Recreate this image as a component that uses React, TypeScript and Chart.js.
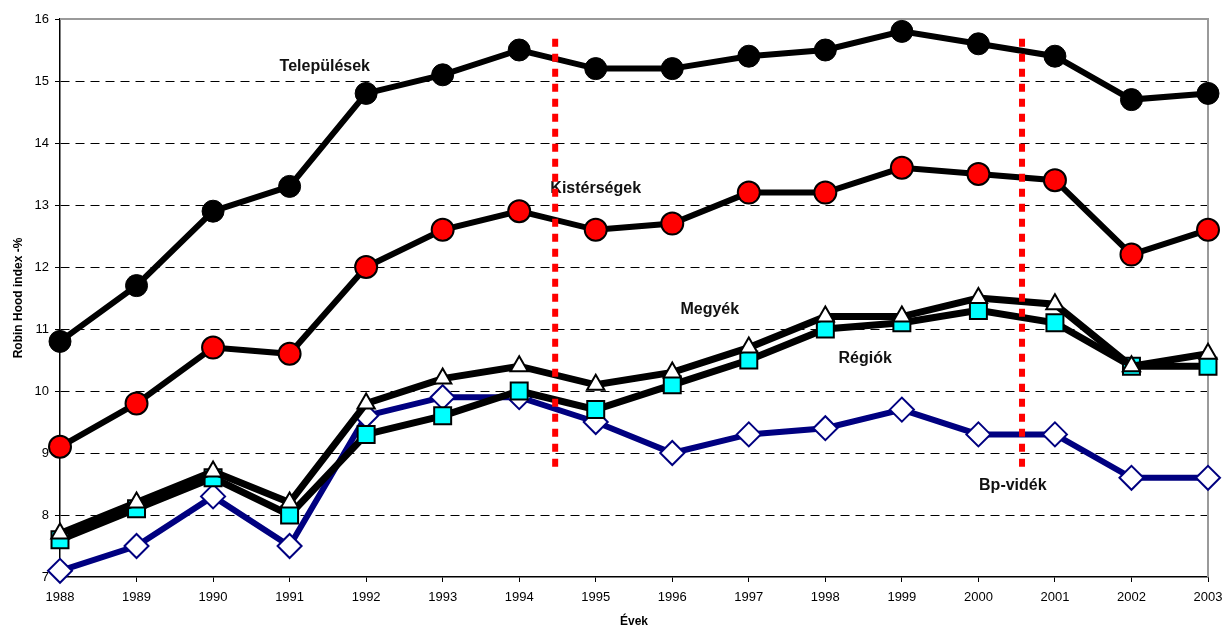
import React, { useEffect, useRef } from 'react';
import { Chart, registerables } from 'chart.js';

Chart.register(...registerables);

const years = ['1988', '1989', '1990', '1991', '1992', '1993', '1994', '1995', '1996', '1997', '1998', '1999', '2000', '2001', '2002', '2003'];
const telepulesek = [10.8, 11.7, 12.9, 13.3, 14.8, 15.1, 15.5, 15.2, 15.2, 15.4, 15.5, 15.8, 15.6, 15.4, 14.7, 14.8];
const kistersegek = [9.1, 9.8, 10.7, 10.6, 12.0, 12.6, 12.9, 12.6, 12.7, 13.2, 13.2, 13.6, 13.5, 13.4, 12.2, 12.6];
const megyek = [7.7, 8.2, 8.7, 8.2, 9.8, 10.2, 10.4, 10.1, 10.3, 10.7, 11.2, 11.2, 11.5, 11.4, 10.4, 10.6];
const regiok = [7.6, 8.1, 8.6, 8.0, 9.3, 9.6, 10.0, 9.7, 10.1, 10.5, 11.0, 11.1, 11.3, 11.1, 10.4, 10.4];
const bpVidek = [7.1, 7.5, 8.3, 7.5, 9.6, 9.9, 9.9, 9.5, 9.0, 9.3, 9.4, 9.7, 9.3, 9.3, 8.6, 8.6];

const yMin = 7;
const yMax = 16;

const labelTexts = ['Települések', 'Kistérségek', 'Megyék', 'Régiók', 'Bp-vidék'];
const labelXs = [3.46, 7.0, 8.49, 10.52, 12.45];
const labelYs = [15.23, 13.26, 11.32, 10.53, 8.47];

const dividerXs = [6.47, 12.57];
const dividerTop = 15.68;
const dividerBottom = 8.73;

const yTitle = 'Robin Hood index -%';
const xTitle = 'Évek';

const FONT = "'Liberation Sans', Arial, Helvetica, sans-serif";

const overlayPlugin = {
  id: 'overlay',
  beforeDatasetsDraw(chart: any) {
    const { ctx, chartArea: a } = chart;
    ctx.save();
    ctx.strokeStyle = '#9a9a9a';
    ctx.lineWidth = 2;
    ctx.beginPath();
    ctx.moveTo(a.left, a.top);
    ctx.lineTo(a.right, a.top);
    ctx.lineTo(a.right, a.bottom);
    ctx.stroke();
    ctx.restore();
  },
  afterDatasetsDraw(chart: any) {
    const { ctx } = chart;
    const xs = chart.scales.x;
    const ys = chart.scales.y;
    ctx.save();
    ctx.font = `bold 16px ${FONT}`;
    ctx.fillStyle = '#111';
    ctx.textAlign = 'center';
    ctx.textBaseline = 'middle';
    labelTexts.forEach((t, i) => {
      ctx.fillText(t, xs.getPixelForValue(labelXs[i]), ys.getPixelForValue(labelYs[i]));
    });
    ctx.strokeStyle = '#ff0000';
    ctx.lineWidth = 6;
    ctx.setLineDash([8, 7]);
    dividerXs.forEach((v) => {
      const px = xs.getPixelForValue(v);
      ctx.beginPath();
      ctx.moveTo(px, ys.getPixelForValue(dividerTop));
      ctx.lineTo(px, ys.getPixelForValue(dividerBottom));
      ctx.stroke();
    });
    ctx.restore();
  },
};

export default function App() {
  const ref = useRef<HTMLCanvasElement | null>(null);

  useEffect(() => {
    if (!ref.current) return;
    const common = { tension: 0, clip: false as any, fill: false };
    const chart = new Chart(ref.current, {
      type: 'line',
      data: {
        labels: years,
        datasets: [
          {
            ...common,
            label: 'Települések',
            data: telepulesek,
            borderColor: '#000',
            borderWidth: 6,
            pointStyle: 'circle',
            pointRadius: 11,
            pointBackgroundColor: '#000',
            pointBorderColor: '#000',
            pointBorderWidth: 1,
            order: 1,
          },
          {
            ...common,
            label: 'Kistérségek',
            data: kistersegek,
            borderColor: '#000',
            borderWidth: 6,
            pointStyle: 'circle',
            pointRadius: 11,
            pointBackgroundColor: '#ff0000',
            pointBorderColor: '#000',
            pointBorderWidth: 2,
            order: 2,
          },
          {
            ...common,
            label: 'Megyék',
            data: megyek,
            borderColor: '#000',
            borderWidth: 7,
            pointStyle: 'triangle',
            pointRadius: 10,
            pointBackgroundColor: '#fff',
            pointBorderColor: '#000',
            pointBorderWidth: 2,
            order: 3,
          },
          {
            ...common,
            label: 'Régiók',
            data: regiok,
            borderColor: '#000',
            borderWidth: 7,
            pointStyle: 'rect',
            pointRadius: 12,
            pointBackgroundColor: '#00ffff',
            pointBorderColor: '#000',
            pointBorderWidth: 2,
            order: 4,
          },
          {
            ...common,
            label: 'Bp-vidék',
            data: bpVidek,
            borderColor: '#000080',
            borderWidth: 6,
            pointStyle: 'rectRot',
            pointRadius: 12,
            pointBackgroundColor: '#fff',
            pointBorderColor: '#000080',
            pointBorderWidth: 2,
            order: 5,
          },
        ],
      },
      options: {
        responsive: false,
        animation: false,
        devicePixelRatio: 1,
        layout: { padding: { top: 19, right: 17, left: 0, bottom: 0 } },
        plugins: {
          legend: { display: false },
          tooltip: { enabled: false },
          title: { display: false },
        },
        scales: {
          x: {
            type: 'category',
            offset: false,
            grid: {
              drawOnChartArea: false,
              drawTicks: true,
              tickLength: 5,
              tickColor: '#000',
            },
            border: { display: true, color: '#000', width: 1.5 },
            ticks: {
              color: '#000',
              font: { size: 13, family: FONT },
              padding: 8,
              maxRotation: 0,
              autoSkip: false,
            },
            title: {
              display: true,
              text: xTitle,
              color: '#000',
              font: { size: 12, weight: 'bold', family: FONT },
              padding: { top: 0, bottom: 3 },
            },
            afterFit(scale: any) {
              scale.height = 55;
              scale.paddingLeft = 0;
              scale.paddingRight = 0;
            },
          },
          y: {
            type: 'linear',
            min: yMin,
            max: yMax,
            grid: {
              color: (ctx: any) => (ctx.tick && (ctx.tick.value === yMin || ctx.tick.value === yMax) ? 'rgba(0,0,0,0)' : '#000'),
              lineWidth: 1,
              drawTicks: true,
              tickLength: 5,
              tickColor: '#000',
              tickBorderDash: [],
            },
            border: { display: true, color: '#000', width: 1.5, dash: [9, 6] },
            ticks: {
              stepSize: 1,
              color: '#000',
              font: { size: 13, family: FONT },
              padding: 6,
            },
            title: {
              display: true,
              text: yTitle,
              color: '#000',
              font: { size: 12, weight: 'bold', family: FONT },
              padding: { top: 11, bottom: 0 },
            },
            afterFit(scale: any) {
              scale.width = 60;
              scale.paddingTop = 0;
              scale.paddingBottom = 0;
            },
          },
        },
      },
      plugins: [overlayPlugin],
    } as any);
    return () => chart.destroy();
  }, []);

  return (
    <div style={{ position: 'fixed', left: 0, top: 0, width: 1225, height: 632, background: '#fff' }}>
      <canvas ref={ref} width={1225} height={632} style={{ width: 1225, height: 632, display: 'block' }} />
    </div>
  );
}
